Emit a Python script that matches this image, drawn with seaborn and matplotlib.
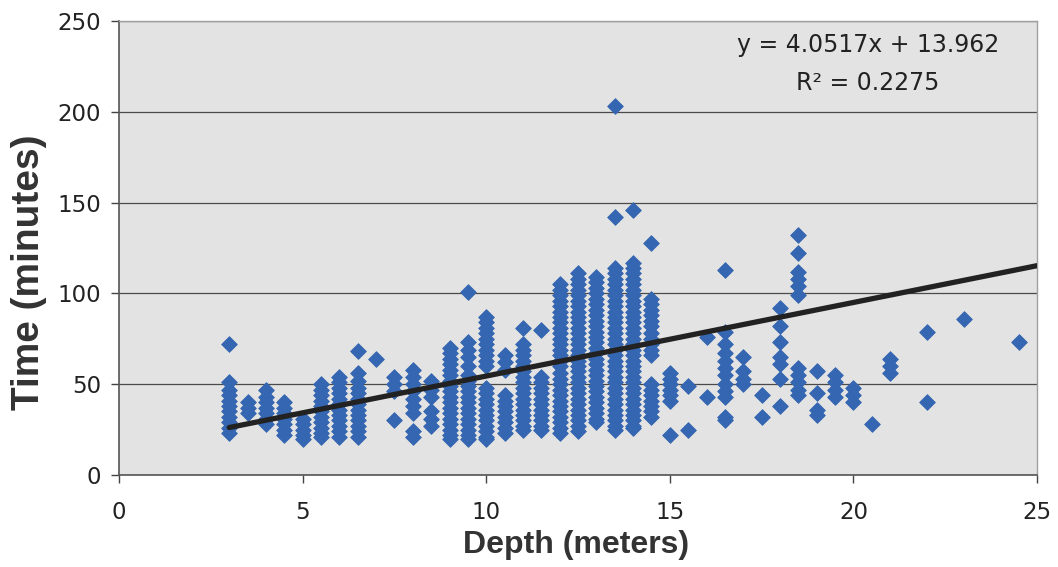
"""
Dive depth vs. dive time scatter with linear trendline
"""
import numpy as np
import pandas as pd
import matplotlib
matplotlib.use("Agg")
import matplotlib.pyplot as plt
import seaborn as sns

depths = [3.0, 3.5, 4.0, 4.5, 5.0, 5.5, 6.0, 6.5, 7.0, 7.5, 8.0, 8.5, 9.0, 9.5,
          10.0, 10.5, 11.0, 11.5, 12.0, 12.5, 13.0, 13.5, 14.0, 14.5, 15.0,
          15.5, 16.0, 16.5, 17.0, 17.5, 18.0, 18.5, 19.0, 19.5, 20.0, 20.5,
          21.0, 22.0, 23.0, 24.5]

times = [
    [72, 51, 47, 44, 41, 38, 35, 32, 29, 26, 23],
    [40, 37, 34],
    [47, 43, 40, 37, 34, 31, 28],
    [40, 37, 34, 31, 28, 25, 22],
    [31, 28, 25, 22, 20],
    [50, 47, 44, 41, 38, 35, 32, 29, 26, 23, 21],
    [54, 51, 48, 45, 42, 39, 36, 33, 30, 27, 24, 21],
    [68, 56, 52, 48, 45, 42, 39, 36, 33, 30, 27, 24, 21],
    [64],
    [54, 50, 46, 30],
    [58, 54, 50, 46, 42, 38, 34, 24, 21],
    [52, 47, 43, 35, 31, 27],
    [70, 67, 64, 61, 58, 55, 52, 49, 46, 43, 40, 37, 34, 31, 28, 25, 22, 20],
    [101, 73, 69, 65, 60, 55, 52, 49, 46, 43, 40, 37, 34, 31, 28, 25, 22, 20],
    [87, 84, 81, 78, 75, 72, 69, 66, 63, 60, 48, 45, 42, 39, 36, 33, 30, 27,
     24, 21, 20],
    [66, 62, 58, 44, 41, 38, 35, 32, 29, 26, 23],
    [81, 72, 69, 66, 63, 60, 57, 54, 51, 48, 45, 42, 39, 36, 33, 30, 27, 25],
    [80, 54, 51, 48, 45, 42, 39, 36, 33, 30, 27, 25],
    [105, 102, 99, 96, 93, 90, 87, 84, 81, 78, 75, 72, 69, 66, 63, 60, 56,
     53, 50, 47, 44, 41, 38, 35, 32, 29, 26, 23],
    [111, 108, 105, 102, 99, 96, 93, 90, 87, 84, 81, 78, 75, 72, 69, 66, 63,
     60, 57, 54, 51, 48, 45, 42, 39, 36, 33, 30, 27, 24],
    [109, 106, 103, 100, 97, 94, 91, 88, 85, 82, 79, 76, 73, 70, 67, 64, 61,
     58, 55, 52, 49, 46, 43, 40, 37, 34, 31, 29],
    [203, 142, 114, 111, 108, 105, 102, 99, 96, 93, 90, 87, 84, 81, 78, 75,
     72, 69, 66, 63, 60, 57, 54, 51, 48, 45, 42, 39, 36, 33, 30, 27, 25],
    [146, 117, 114, 111, 108, 105, 102, 99, 96, 93, 90, 87, 84, 81, 78, 75,
     72, 69, 66, 63, 60, 57, 54, 51, 48, 45, 42, 39, 36, 33, 30, 27, 26],
    [128, 97, 94, 91, 88, 85, 82, 78, 75, 72, 69, 66, 50, 47, 44, 41, 38, 35,
     32],
    [56, 53, 50, 47, 44, 41, 22],
    [49, 25],
    [76, 43],
    [113, 79, 72, 67, 63, 59, 55, 50, 46, 43, 32, 30],
    [65, 57, 53, 50],
    [44, 32],
    [92, 82, 73, 65, 61, 53, 38],
    [132, 122, 112, 108, 104, 99, 59, 55, 51, 47, 44],
    [57, 45, 36, 33],
    [55, 51, 47, 43],
    [48, 44, 40],
    [28],
    [64, 60, 56],
    [79, 40],
    [86],
    [73],
]

# trendline from the chart's own equation
slope = 4.0517
intercept = 13.962
r_squared = 0.2275

x_ticks = [0, 5, 10, 15, 20, 25]
y_ticks = [0, 50, 100, 150, 200, 250]

POINT_COLOR = '#3566b1'

sns.set_style("ticks")
plt.rcParams['font.family'] = ['DejaVu Sans']


def main():
    df = pd.DataFrame({
        'depth': np.repeat(depths, [len(t) for t in times]),
        'time': np.concatenate(times),
    })

    fig = plt.figure(figsize=(10.58, 5.67), dpi=100)
    ax = fig.add_axes([0.1125, 0.1623, 0.8677, 0.8007])
    ax.set_facecolor('#e3e3e3')

    sns.scatterplot(data=df, x='depth', y='time', marker='D', s=64,
                    color=POINT_COLOR, edgecolor=POINT_COLOR, linewidth=0.6,
                    ax=ax, zorder=3)

    trend = pd.DataFrame({'depth': [df['depth'].min(), x_ticks[-1]]})
    trend['time'] = slope * trend['depth'] + intercept
    sns.lineplot(data=trend, x='depth', y='time', color='#222222',
                 linewidth=3.8, ax=ax, zorder=4)

    ax.set_xlim(x_ticks[0], x_ticks[-1])
    ax.set_ylim(y_ticks[0], y_ticks[-1])
    ax.set_xticks(x_ticks)
    ax.set_yticks(y_ticks)

    ax.yaxis.grid(True, color='#4a4a4a', linewidth=0.9)
    ax.set_axisbelow(True)

    for side in ['left', 'bottom']:
        ax.spines[side].set_color('#555555')
        ax.spines[side].set_linewidth(1.2)
    for side in ['top', 'right']:
        ax.spines[side].set_color('#a0a0a0')
        ax.spines[side].set_linewidth(1.0)

    ax.tick_params(axis='both', direction='out', length=6, width=1,
                   color='#444444', labelsize=16.5, labelcolor='#222222')
    ax.tick_params(axis='x', pad=13)
    ax.tick_params(axis='y', pad=7)

    ax.set_xlabel('Depth (meters)', fontsize=23, fontweight='bold',
                  family='Liberation Sans', color='#333333')
    ax.set_ylabel('Time (minutes)', fontsize=28, fontweight='bold',
                  family='Liberation Sans', color='#333333')
    ax.xaxis.set_label_coords(0.498, -0.121)
    ax.yaxis.set_label_coords(-0.078, 0.447)

    ax.text(20.4, 237, f'y = {slope}x + {intercept}', ha='center',
            va='center', fontsize=17, color='#222222')
    ax.text(20.4, 216, f'R\u00b2 = {r_squared}', ha='center',
            va='center', fontsize=17, color='#222222')

    fig.savefig('out.png', dpi=100, facecolor='white')
    plt.close(fig)


if __name__ == "__main__":
    main()
